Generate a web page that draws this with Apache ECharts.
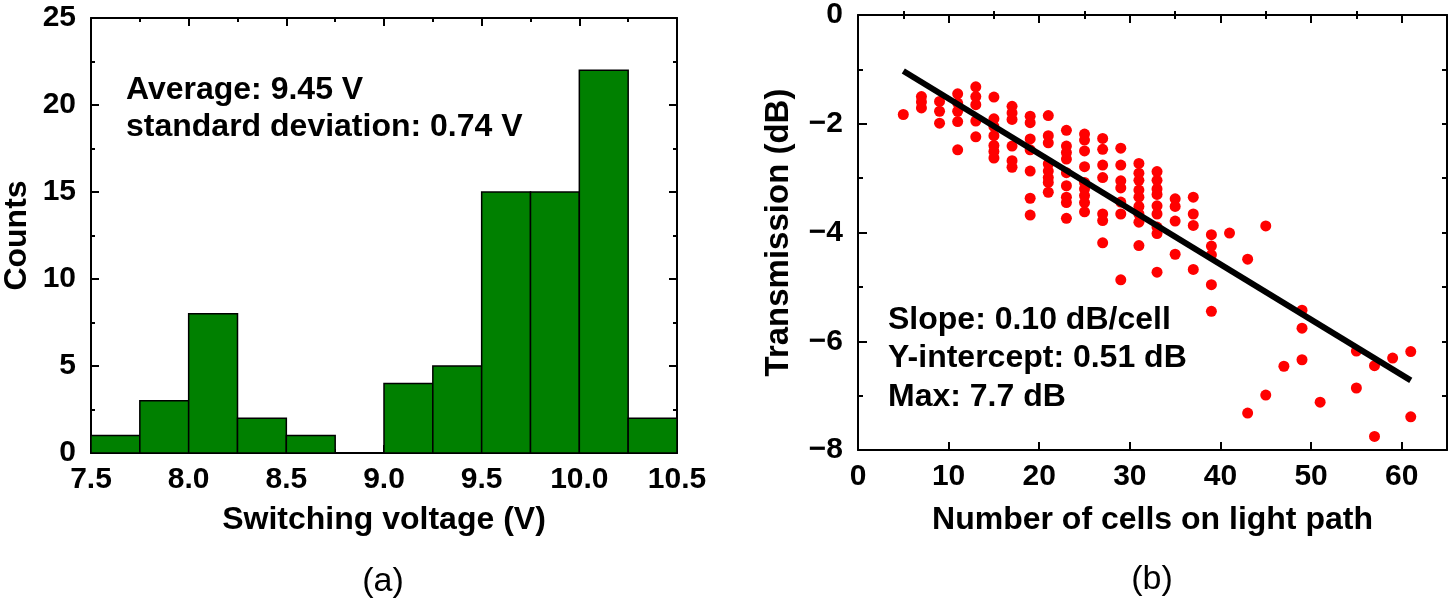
<!DOCTYPE html>
<html>
<head>
<meta charset="utf-8">
<script src="https://cdn.jsdelivr.net/npm/echarts@6/dist/echarts.min.js"></script>
<style>
html,body{margin:0;padding:0;background:#fff;}
#chart{width:1450px;height:607px;}
</style>
</head>
<body>
<div id="chart"></div>
<script>
// ---- Panel (a): histogram of switching voltage ----
const binEdges = [7.5, 7.75, 8.0, 8.25, 8.5, 8.75, 9.0, 9.25, 9.5, 9.75, 10.0, 10.25, 10.5];
const binCounts = [1, 3, 8, 2, 1, 0, 4, 5, 15, 15, 22, 2];
const histTexts = ['Average: 9.45 V', 'standard deviation: 0.74 V'];

// ---- Panel (b): transmission vs number of cells ----
const cellColumns = [5, 7, 9, 11, 13, 15, 17, 19, 21, 23, 25, 27, 29, 31, 33, 35, 37, 39, 41, 43, 45, 47, 49, 51, 55, 57, 59, 61];
const transmissionByColumn = [
  [-1.83],
  [-1.50, -1.60, -1.71],
  [-1.59, -1.77, -1.99],
  [-1.45, -1.62, -1.77, -1.96, -2.48],
  [-1.32, -1.50, -1.65, -1.95, -2.24],
  [-1.51, -1.91, -2.05, -2.22, -2.40, -2.51, -2.63],
  [-1.68, -1.80, -1.92, -2.41, -2.68, -2.80],
  [-1.86, -1.98, -2.28, -2.48, -2.87, -3.37, -3.68],
  [-1.85, -2.22, -2.35, -2.74, -2.87, -2.99, -3.08, -3.26],
  [-2.12, -2.41, -2.53, -2.65, -2.90, -3.14, -3.35, -3.45, -3.74],
  [-2.19, -2.30, -2.50, -2.79, -3.08, -3.20, -3.32, -3.45, -3.62],
  [-2.27, -2.47, -2.76, -2.99, -3.66, -3.78, -4.19],
  [-2.45, -2.76, -3.05, -3.18, -3.44, -3.66, -4.87],
  [-2.73, -2.91, -3.04, -3.22, -3.35, -3.52, -3.66, -3.81, -4.24],
  [-2.88, -3.04, -3.20, -3.30, -3.51, -3.66, -3.90, -4.02, -4.73],
  [-3.38, -3.52, -3.79, -4.40],
  [-3.35, -3.66, -3.87, -4.68],
  [-4.04, -4.25, -4.41, -4.96, -5.45],
  [-4.01],
  [-4.49, -7.32],
  [-3.88, -6.99],
  [-6.46],
  [-5.43, -5.76, -6.34],
  [-7.12],
  [-6.18, -6.86],
  [-6.45, -7.75],
  [-6.31],
  [-6.19, -7.39]
];
const fitLine = [[5, -1.03], [61, -6.72]];
const fitTexts = ['Slope: 0.10 dB/cell', 'Y-intercept: 0.51 dB', 'Max: 7.7 dB'];
const xTicksB = [0, 10, 20, 30, 40, 50, 60];
const xMinorTicksB = [5, 15, 25, 35, 45, 55];

// build tables
const histData = binCounts.map((c, i) => [binEdges[i], binEdges[i + 1], c]);
const scatterData = [];
cellColumns.forEach((x, i) => transmissionByColumn[i].forEach(v => scatterData.push([x, v])));

const FONT = '"Liberation Sans", Arial, Helvetica, sans-serif';
const axisLineStyle = { color: '#000', width: 2 };
const tickStyle = { color: '#000', width: 2 };

function mirrorX(gridIndex, opts) {
  return Object.assign({
    gridIndex, type: 'value', position: 'top',
    axisLine: { show: true, onZero: false, lineStyle: axisLineStyle },
    axisTick: { show: true, inside: true, length: 8, lineStyle: tickStyle },
    minorTick: { show: true, splitNumber: 2, length: 4, lineStyle: tickStyle },
    axisLabel: { show: false }, splitLine: { show: false }
  }, opts);
}
function mirrorY(gridIndex, opts) {
  return Object.assign({
    gridIndex, type: 'value', position: 'right',
    axisLine: { show: true, onZero: false, lineStyle: axisLineStyle },
    axisTick: { show: true, inside: true, length: 8, lineStyle: tickStyle },
    minorTick: { show: true, splitNumber: 2, length: 4, lineStyle: tickStyle },
    axisLabel: { show: false }, splitLine: { show: false }
  }, opts);
}
const labelStyle = { color: '#000', fontSize: 30, fontWeight: 'bold', fontFamily: FONT };
const nameStyle = { color: '#000', fontSize: 32, fontWeight: 'bold', fontFamily: FONT };
const minus = v => String(v).replace('-', '\u2212');

const chart = echarts.init(document.getElementById('chart'), null, { renderer: 'canvas' });
chart.setOption({
  animation: false,
  backgroundColor: '#fff',
  grid: [
    { left: 88, top: 18, width: 589, height: 435 },
    { left: 858, top: 13, width: 589, height: 437 }
  ],
  xAxis: [
    {
      gridIndex: 0, type: 'value', position: 'bottom', min: 7.5, max: 10.5, interval: 0.5,
      axisLine: { show: true, onZero: false, lineStyle: axisLineStyle },
      axisTick: { show: true, inside: true, length: 8, lineStyle: tickStyle },
      minorTick: { show: true, splitNumber: 2, length: 4, lineStyle: tickStyle },
      axisLabel: Object.assign({ margin: 12, formatter: v => v.toFixed(1) }, labelStyle),
      splitLine: { show: false },
      name: 'Switching voltage (V)', nameLocation: 'middle', nameGap: 51, nameTextStyle: nameStyle
    },
    mirrorX(0, { min: 7.5, max: 10.5, interval: 0.5 }),
    {
      gridIndex: 1, type: 'value', position: 'bottom', min: 0, max: 65,
      axisLine: { show: true, onZero: false, lineStyle: axisLineStyle },
      axisTick: { show: true, inside: true, length: 8, lineStyle: tickStyle, customValues: xTicksB },
      minorTick: { show: false },
      axisLabel: Object.assign({ margin: 12, customValues: xTicksB }, labelStyle),
      splitLine: { show: false },
      name: 'Number of cells on light path', nameLocation: 'middle', nameGap: 54, nameTextStyle: nameStyle
    },
    {
      gridIndex: 1, type: 'value', position: 'bottom', min: 0, max: 65,
      axisLine: { show: false },
      axisTick: { show: true, inside: true, length: 4, lineStyle: tickStyle, customValues: xMinorTicksB },
      axisLabel: { show: false }, splitLine: { show: false }
    },
    {
      gridIndex: 1, type: 'value', position: 'top', min: 0, max: 65,
      axisLine: { show: true, onZero: false, lineStyle: axisLineStyle },
      axisTick: { show: true, inside: true, length: 8, lineStyle: tickStyle, customValues: xTicksB },
      axisLabel: { show: false }, splitLine: { show: false }
    },
    {
      gridIndex: 1, type: 'value', position: 'top', min: 0, max: 65,
      axisLine: { show: false },
      axisTick: { show: true, inside: true, length: 4, lineStyle: tickStyle, customValues: xMinorTicksB },
      axisLabel: { show: false }, splitLine: { show: false }
    }
  ],
  yAxis: [
    {
      gridIndex: 0, type: 'value', position: 'left', min: 0, max: 25, interval: 5,
      axisLine: { show: true, onZero: false, lineStyle: axisLineStyle },
      axisTick: { show: true, inside: true, length: 8, lineStyle: tickStyle },
      minorTick: { show: true, splitNumber: 2, length: 4, lineStyle: tickStyle },
      axisLabel: Object.assign({ margin: 15 }, labelStyle),
      splitLine: { show: false },
      name: 'Counts', nameLocation: 'middle', nameGap: 58, nameTextStyle: nameStyle
    },
    mirrorY(0, { min: 0, max: 25, interval: 5 }),
    {
      gridIndex: 1, type: 'value', position: 'left', min: -8, max: 0, interval: 2,
      axisLine: { show: true, onZero: false, lineStyle: axisLineStyle },
      axisTick: { show: true, inside: true, length: 9, lineStyle: tickStyle },
      minorTick: { show: true, splitNumber: 2, length: 5, lineStyle: tickStyle },
      axisLabel: Object.assign({ margin: 15, formatter: minus }, labelStyle),
      splitLine: { show: false },
      name: 'Transmission (dB)', nameLocation: 'middle', nameGap: 63,
      nameTextStyle: Object.assign({}, nameStyle, { fontSize: 33 })
    },
    mirrorY(1, { min: -8, max: 0, interval: 2,
      axisTick: { show: true, inside: true, length: 5, lineStyle: tickStyle },
      minorTick: { show: true, splitNumber: 2, length: 5, lineStyle: tickStyle } })
  ],
  series: [
    {
      type: 'custom', xAxisIndex: 0, yAxisIndex: 0, data: histData,
      renderItem: function (params, api) {
        const h = api.value(2);
        if (!h) return null;
        const p0 = api.coord([api.value(0), h]);
        const p1 = api.coord([api.value(1), 0]);
        return {
          type: 'rect',
          shape: { x: p0[0], y: p0[1], width: p1[0] - p0[0], height: p1[1] - p0[1] },
          style: { fill: '#008000', stroke: '#000', lineWidth: 1.5 }
        };
      },
      z: 2
    },
    {
      type: 'scatter', xAxisIndex: 2, yAxisIndex: 2, data: scatterData,
      symbol: 'circle', symbolSize: 11, itemStyle: { color: '#ff0000', opacity: 1 }, z: 3
    },
    {
      type: 'line', xAxisIndex: 2, yAxisIndex: 2, data: fitLine,
      showSymbol: false, symbol: 'none', lineStyle: { color: '#000', width: 6 }, z: 4
    }
  ],
  graphic: [
    { type: 'text', x: 126, y: 90, style: { text: histTexts[0], fill: '#000', font: 'bold 32px ' + FONT, verticalAlign: 'middle' } },
    { type: 'text', x: 126, y: 127, style: { text: histTexts[1], fill: '#000', font: 'bold 32px ' + FONT, verticalAlign: 'middle' } },
    { type: 'text', x: 888, y: 320, style: { text: fitTexts[0], fill: '#000', font: 'bold 32px ' + FONT, verticalAlign: 'middle' } },
    { type: 'text', x: 888, y: 358, style: { text: fitTexts[1], fill: '#000', font: 'bold 32px ' + FONT, verticalAlign: 'middle' } },
    { type: 'text', x: 888, y: 397, style: { text: fitTexts[2], fill: '#000', font: 'bold 32px ' + FONT, verticalAlign: 'middle' } },
    { type: 'text', x: 383, y: 582, style: { text: '(a)', fill: '#000', font: '34px ' + FONT, align: 'center', verticalAlign: 'middle' } },
    { type: 'text', x: 1152, y: 580, style: { text: '(b)', fill: '#000', font: '34px ' + FONT, align: 'center', verticalAlign: 'middle' } }
  ]
});
</script>
</body>
</html>
